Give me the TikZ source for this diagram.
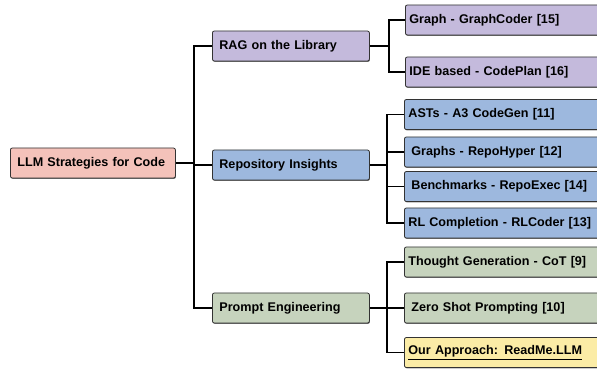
\documentclass[tikz,border=0pt]{standalone}
\usepackage{fontspec}
\setmainfont{Liberation Sans}
\usetikzlibrary{shadows}
\definecolor{cpink}{RGB}{244,194,186}
\definecolor{cpurple}{RGB}{196,186,220}
\definecolor{cblue}{RGB}{157,184,222}
\definecolor{cgreen}{RGB}{198,211,189}
\definecolor{cyellow}{RGB}{251,236,166}
\begin{document}
\begin{tikzpicture}[x=1pt,y=-1pt,
  font=\fontsize{12.6}{14}\selectfont\bfseries,
  box/.style={draw=black!80, line width=0.8pt, rounded corners=2pt, anchor=west,
    inner ysep=0pt, align=left, minimum height=30pt,
    drop shadow={shadow xshift=0.5pt, shadow yshift=-0.9pt, fill=black!55, opacity=1}},
  rootbox/.style={box, fill=cpink, inner xsep=7pt, text width=151pt},
  lone/.style={box, inner xsep=7pt, text width=143pt},
  ltwo/.style={box, inner xsep=4pt, text width=212pt},
  conn/.style={draw=black, line width=1.1pt}]
\useasboundingbox[fill=white] (0,0) rectangle (597,371);

\node[rootbox] (root) at (10,163) {LLM Strategies for Code};

\node[lone, fill=cpurple] (rag) at (212,46) {RAG on the Library};
\node[lone, fill=cblue] (repo) at (212,165) {Repository Insights};
\node[lone, fill=cgreen] (prompt) at (212,308) {Prompt Engineering};

\node[ltwo, fill=cpurple] (gc) at (405,20) {Graph - GraphCoder [15]};
\node[ltwo, fill=cpurple] (ide) at (405,72) {IDE based - CodePlan [16]};

\node[ltwo, fill=cblue] (ast) at (404,114.5) {ASTs - A3 CodeGen [11]};
\node[ltwo, fill=cblue] (rh) at (404,152) {\hspace{3pt}Graphs - RepoHyper [12]};
\node[ltwo, fill=cblue] (re) at (404,186.5) {\hspace{3pt}Benchmarks - RepoExec [14]};
\node[ltwo, fill=cblue] (rl) at (404,223) {RL Completion - RLCoder [13]};

\node[ltwo, fill=cgreen] (cot) at (404,262) {Thought Generation - CoT [9]};
\node[ltwo, fill=cgreen] (zs) at (404,308) {\hspace{3pt}Zero Shot Prompting [10]};
\node[ltwo, fill=cyellow] (ours) at (404,352.5) {\underline{Our Approach: ReadMe.LLM}};

\coordinate (trunk) at (194,163);
\draw[conn] (root.east) -- (trunk);
\foreach \t in {rag,repo,prompt}
  \draw[conn] (trunk) |- (\t.west);

\coordinate (jrag) at (389,46);
\draw[conn] (rag.east) -- (jrag);
\foreach \t in {gc,ide}
  \draw[conn] (jrag) |- (\t.west);

\coordinate (jrepo) at (387,165);
\draw[conn] (repo.east) -- (jrepo);
\foreach \t in {ast,rh,re,rl}
  \draw[conn] (jrepo) |- (\t.west);

\coordinate (jprompt) at (387,308);
\draw[conn] (prompt.east) -- (jprompt);
\foreach \t in {cot,zs,ours}
  \draw[conn] (jprompt) |- (\t.west);
\end{tikzpicture}
\end{document}
